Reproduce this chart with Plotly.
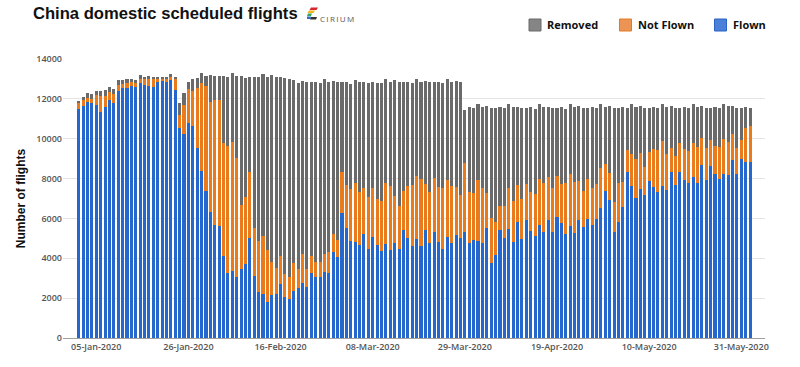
import pandas as pd
import plotly.graph_objects as go

# ---------------- data (daily, 01-Jan-2020 .. 02-Jun-2020) ----------------
start_date = "2020-01-01"
n_days = 154

flown = [
    11470, 11660, 11860, 11770, 11690, 11350, 11590, 11940, 11770, 12410,
    12520, 12560, 12660, 12580, 12780, 12690, 12660, 12610, 12860, 12890,
    12830, 12940, 12440, 10560, 10230, 10800, 10650, 9520, 8400, 7370,
    6340, 5670, 5640, 4120, 3250, 3340, 3040, 3470, 3730, 5040,
    3110, 2320, 2190, 1820, 2160, 2190, 2710, 2040, 1940, 2360,
    2530, 2740, 2540, 3240, 3080, 3040, 3330, 3240, 4330, 4050,
    6250, 5500, 4880, 4830, 4670, 5200, 4460, 5050, 4670, 4380,
    4700, 4410, 4780, 4460, 5400, 5030, 4630, 4970, 4630, 5420,
    4750, 5330, 4800, 4450, 5080, 4750, 5170, 5030, 5330, 4750,
    4920, 4870, 4750, 5540, 3750, 4160, 5420, 5000, 5450, 4830,
    5840, 4970, 5920, 5380, 5130, 5670, 5330, 5920, 5330, 6090,
    5750, 5220, 5620, 5280, 5920, 5590, 5950, 5670, 5950, 6500,
    7370, 6920, 5330, 5840, 6560, 8310, 7630, 7040, 7460, 7170,
    7880, 7560, 7340, 7630, 7420, 8310, 7680, 8340, 7930, 7760,
    8090, 7760, 8680, 7930, 8650, 8210, 7960, 8210, 8180, 8930,
    8210, 8980, 8850, 8850,
]

not_flown = [
    300, 280, 200, 220, 520, 810, 550, 420, 470, 280,
    210, 220, 170, 230, 230, 290, 330, 370, 170, 150,
    180, 170, 540, 640, 1460, 1680, 1760, 3000, 4380, 5280,
    5520, 6270, 6300, 5660, 6400, 6510, 5990, 3200, 3340, 3280,
    2390, 2550, 2920, 2580, 1640, 1340, 1400, 1150, 1140, 1390,
    910, 1460, 920, 870, 750, 790, 870, 1090, 890, 870,
    2090, 2180, 2590, 2960, 2670, 2310, 2600, 2490, 2290, 2490,
    3060, 3230, 2340, 2180, 1990, 2600, 3050, 3170, 3350, 2290,
    2590, 2710, 2760, 3090, 2850, 2880, 2420, 2140, 3470, 2590,
    2370, 3060, 2790, 1720, 2250, 1680, 1200, 1640, 2090, 2040,
    1840, 2030, 1810, 1960, 2090, 2310, 2430, 2170, 2210, 2050,
    1980, 2540, 2590, 2560, 1960, 1780, 2010, 1870, 1760, 2050,
    1360, 1340, 1510, 1920, 1250, 1120, 1600, 1940, 1840, 1390,
    1430, 1900, 2090, 2250, 1810, 1240, 1450, 1430, 1530, 1620,
    1710, 1810, 1340, 1620, 1280, 1420, 1640, 1760, 1670, 1300,
    1340, 950, 1670, 1800,
]

removed = [
    140, 150, 250, 230, 200, 250, 280, 240, 250, 250,
    210, 200, 150, 130, 170, 130, 170, 100, 80, 70,
    70, 130, 120, 610, 580, 360, 580, 510, 500, 490,
    1330, 1200, 1200, 3360, 3450, 3430, 4120, 6500, 5960, 4780,
    7610, 8210, 8130, 8710, 9390, 9550, 8970, 9840, 9910, 9190,
    9370, 8690, 9370, 8720, 9000, 8950, 8780, 8500, 7670, 7910,
    4490, 5150, 5270, 5150, 5490, 5330, 5750, 5290, 5820, 5910,
    5220, 5220, 5820, 6220, 5440, 5230, 5100, 4840, 4880, 5180,
    5490, 4790, 5300, 5240, 5050, 5230, 5300, 5690, 2640, 4270,
    4270, 3790, 4070, 4400, 5520, 5680, 4990, 4880, 4180, 4700,
    3930, 4520, 3790, 4270, 4250, 3740, 3810, 3520, 3980, 3380,
    3840, 3710, 3510, 3730, 3780, 4150, 3560, 4070, 3810, 3170,
    2840, 3400, 4680, 3760, 3800, 2090, 2490, 2590, 2360, 2960,
    2210, 2150, 2090, 1840, 2340, 2110, 2390, 1750, 2150, 2140,
    1920, 2000, 1640, 1970, 1590, 1980, 1920, 1750, 1790, 1430,
    1970, 1590, 1090, 870,
]

series_names = ["Flown", "Not Flown", "Removed"]
tick_dates = ["2020-01-05", "2020-01-26", "2020-02-16", "2020-03-08",
              "2020-03-29", "2020-04-19", "2020-05-10", "2020-05-31"]
y_ticks = [0, 2000, 4000, 6000, 8000, 10000, 12000, 14000]

# ---------------- styling ----------------
bar_colors = {"Flown": "#2667cd", "Not Flown": "#e97b1c", "Removed": "#6a6a6a"}
legend_fill = {"Removed": "#858585", "Not Flown": "#eb9453", "Flown": "#4a80d8"}
legend_line = {"Removed": "#6b6b6b", "Not Flown": "#e27a26", "Flown": "#2b63c6"}

dates = pd.date_range(start_date, periods=n_days, freq="D")

fig = go.Figure()
for name, vals in zip(series_names, [flown, not_flown, removed]):
    fig.add_trace(go.Bar(
        x=dates, y=vals, name=name,
        marker=dict(color=bar_colors[name], line=dict(width=0)),
        showlegend=False,
    ))

x0 = dates[0] - pd.Timedelta(days=3.58)
x1 = dates[0] + pd.Timedelta(days=156.4)

tick_font = dict(family="Open Sans, DejaVu Sans, sans-serif", size=9, color="#555555", weight=600)

L, R, T, B = 63, 35, 59, 29
W, H = 800, 367

fig.update_layout(
    width=W, height=H,
    margin=dict(l=L, r=R, t=T, b=B),
    barmode="stack", bargap=0.3,
    plot_bgcolor="white", paper_bgcolor="white",
    xaxis=dict(
        type="date", range=[x0, x1],
        tickvals=tick_dates, tickformat="%d-%b-%Y",
        tickfont=tick_font, showgrid=False,
        showline=True, linecolor="#a0a0a0", linewidth=1,
        ticks="", zeroline=False,
    ),
    yaxis=dict(
        range=[0, 14000], tickvals=y_ticks, tickformat="d",
        tickfont=tick_font, gridcolor="#e4e4e4", gridwidth=1,
        zeroline=False, showline=False, ticks="",
        title=dict(text="Number of flights",
                   font=dict(family="Liberation Sans, Arial, sans-serif", size=12,
                             color="#111111", weight="bold"),
                   standoff=8),
    ),
)


def px(xp):
    return (xp - L) / (W - L - R)


def py(yp):
    return (H - B - yp) / (H - B - T)


# Title
fig.add_annotation(
    x=px(31), y=py(14), xref="paper", yref="paper", text="China domestic scheduled flights",
    showarrow=False, xanchor="left", yanchor="middle",
    font=dict(family="Liberation Sans, Arial, sans-serif", size=16.6, color="#111111", weight="bold"),
)

# Cirium logo (small coloured stripes) + text
logo_parts = [
    ("#d7262e", [(311, 7.5), (318, 7.5), (316.5, 10), (309.5, 10)]),
    ("#f2b418", [(309, 10.5), (315, 10.5), (313.5, 13), (307.5, 13)]),
    ("#3aa655", [(308, 13.5), (312, 13.5), (311, 16), (307, 16)]),
    ("#2a6fd1", [(307, 16.5), (311, 16.5), (310.5, 19), (307, 19)]),
    ("#333333", [(311, 17), (317, 17), (316, 19.5), (310, 19.5)]),
]
for color, pts in logo_parts:
    path = "M " + " L ".join(f"{px(a):.5f},{py(b):.5f}" for a, b in pts) + " Z"
    fig.add_shape(type="path", path=path, xref="paper", yref="paper",
                  fillcolor=color, line=dict(width=0))
fig.add_annotation(
    x=px(318), y=py(18.5), xref="paper", yref="paper",
    text="C\u2009I\u2009R\u2009I\u2009U\u2009M", showarrow=False,
    xanchor="left", yanchor="middle",
    font=dict(family="Open Sans, sans-serif", size=8, color="#555555"),
)

# Legend (drawn manually to match placement)
legend_items = [("Removed", 529), ("Not Flown", 619.5), ("Flown", 714.5)]
for name, lx in legend_items:
    fig.add_shape(type="rect", xref="paper", yref="paper",
                  x0=px(lx), x1=px(lx + 12), y0=py(31), y1=py(19),
                  fillcolor=legend_fill[name], line=dict(color=legend_line[name], width=1))
    fig.add_annotation(
        x=px(lx + 16), y=py(25), xref="paper", yref="paper", text=name,
        showarrow=False, xanchor="left", yanchor="middle",
        font=dict(family="Open Sans, sans-serif", size=11, color="#111111", weight="bold"),
    )

fig.write_html("out.html", config={"displayModeBar": False},
               post_script="document.body.style.margin='0';")
